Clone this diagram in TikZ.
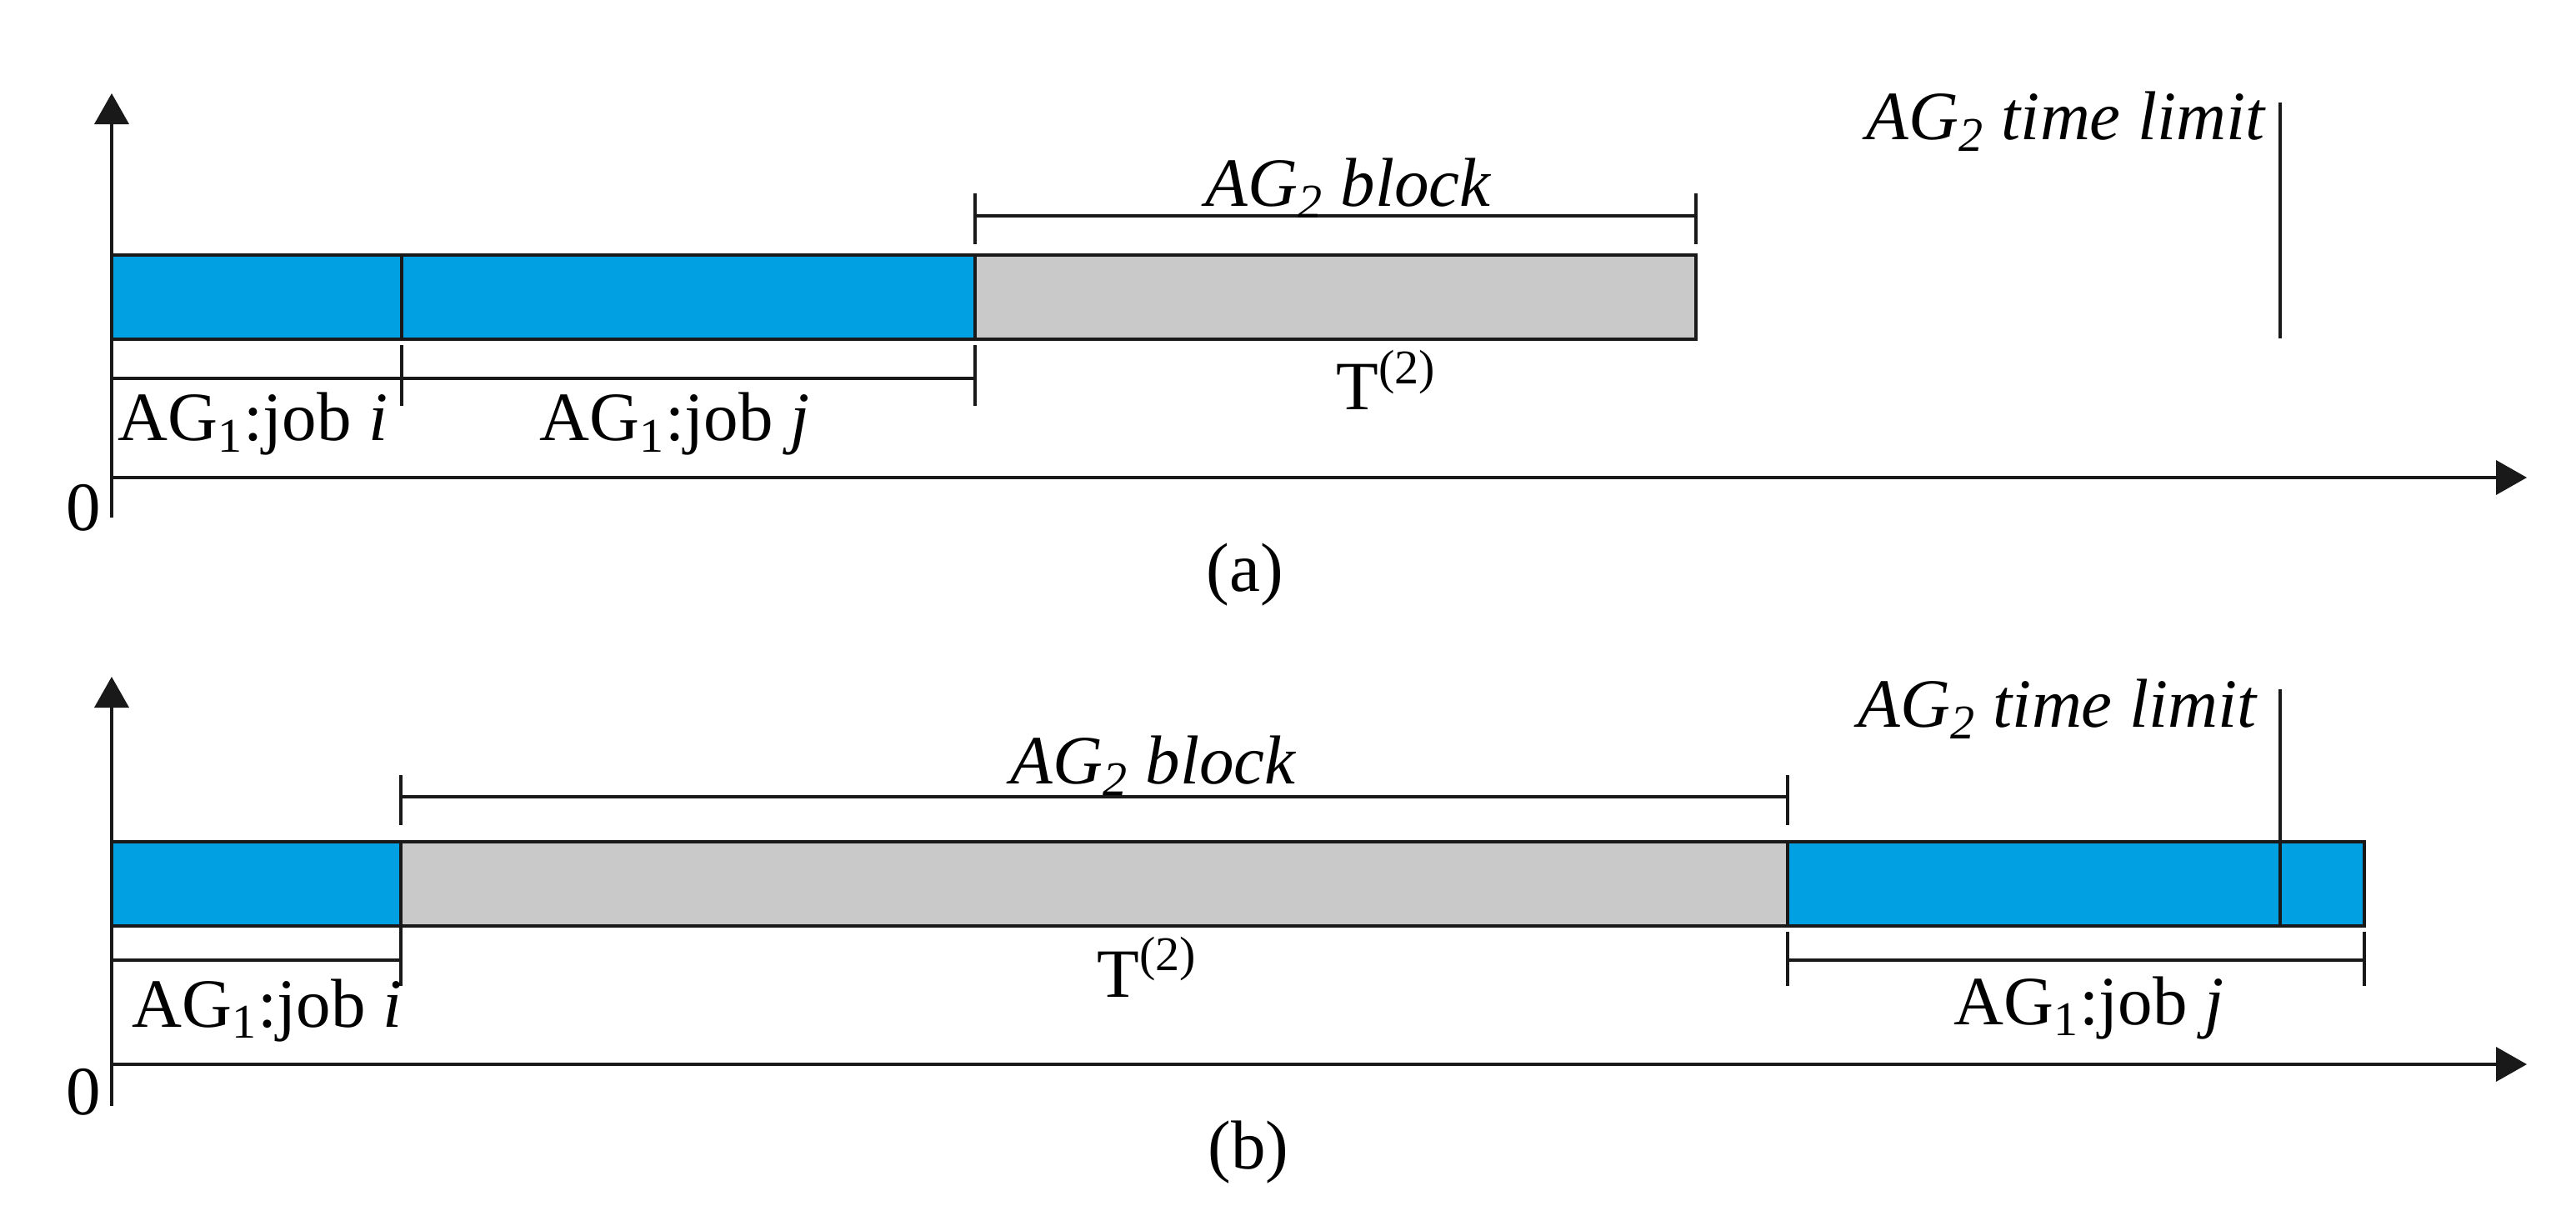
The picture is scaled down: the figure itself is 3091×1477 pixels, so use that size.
\documentclass[tikz,border=0pt]{standalone}
\usepackage{fontspec}
\setmainfont{Liberation Serif}
\usetikzlibrary{arrows.meta}
\definecolor{jobblue}{RGB}{0,160,227}
\definecolor{blockgray}{RGB}{200,201,200}
\begin{document}
\begin{tikzpicture}[x=0.01cm,y=-0.01cm,
  ln/.style={line width=1.1pt,draw=black!90},
  axis/.style={ln,-{Triangle[length=0.37cm,width=0.41cm]}},
  bar/.style={ln},
  lbl/.style={inner sep=0pt,font=\fontsize{23.6}{28}\selectfont},
  dl/.style={ln,dash pattern=on 2.83cm off 2.81cm}]
\useasboundingbox (0,0) rectangle (3091,1477);
% ===== panel (a) =====
\begin{scope}
\filldraw[bar,fill=jobblue] (134,306) rectangle (482,407);
\filldraw[bar,fill=jobblue] (482,306) rectangle (1170,407);
\filldraw[bar,fill=blockgray] (1170,306) rectangle (2035,407);
\draw[axis] (134,621) -- (134,112);
\draw[axis] (134,573) -- (3032,573);
\draw[ln] (134,454) -- (1170,454);
\draw[ln] (482,414) -- (482,487);
\draw[ln] (1170,414) -- (1170,487);
\draw[ln] (1170,259) -- (2035,259) (1170,232) -- (1170,293) (2035,232) -- (2035,293);
\draw[ln,dash pattern=on 2.83cm off 2.81cm] (2736,123) -- (2736,621);
\node[lbl,anchor=base west] (ai) at (141,529) {AG\textsubscript{1}:job \textit{i}};
\node[lbl,anchor=base west] (aj) at (647,529) {AG\textsubscript{1}:job \textit{j}};
\node[lbl,anchor=base west] (ablk) at (1446,248) {\textit{AG\textsubscript{2} block}};
\node[lbl,anchor=base west] (aT) at (1603,492) {T\textsuperscript{(2)}};
\node[lbl,anchor=base east] (alim) at (2720,168) {\textit{AG\textsubscript{2} time limit}};
\node[lbl] (a0) at (100,609) {0};
\node[lbl] (acap) at (1494,690) {(a)};
\end{scope}
% ===== panel (b) =====
\begin{scope}
\filldraw[bar,fill=jobblue] (134,1010) rectangle (481,1111);
\filldraw[bar,fill=blockgray] (481,1010) rectangle (2145,1111);
\filldraw[bar,fill=jobblue] (2145,1010) rectangle (2837,1111);
\draw[axis] (134,1327) -- (134,812);
\draw[axis] (134,1277) -- (3032,1277);
\draw[ln] (481,956) -- (2145,956) (481,930) -- (481,990) (2145,930) -- (2145,990);
\draw[ln] (134,1152) -- (481,1152) (481,1111) -- (481,1183);
\draw[ln] (2145,1152) -- (2837,1152) (2145,1118) -- (2145,1183) (2837,1118) -- (2837,1183);
\draw[ln,dash pattern=on 2.83cm off 2.81cm] (2736,827) -- (2736,1327);
\node[lbl,anchor=base west] (bi) at (158,1232) {AG\textsubscript{1}:job \textit{i}};
\node[lbl,anchor=base west] (bj) at (2344,1229) {AG\textsubscript{1}:job \textit{j}};
\node[lbl,anchor=base west] (bblk) at (1212,941) {\textit{AG\textsubscript{2} block}};
\node[lbl,anchor=base west] (bT) at (1316,1196) {T\textsuperscript{(2)}};
\node[lbl,anchor=base east] (blim) at (2710,873) {\textit{AG\textsubscript{2} time limit}};
\node[lbl] (b0) at (100,1310) {0};
\node[lbl] (bcap) at (1498,1383) {(b)};
\end{scope}
\end{tikzpicture}
\end{document}
